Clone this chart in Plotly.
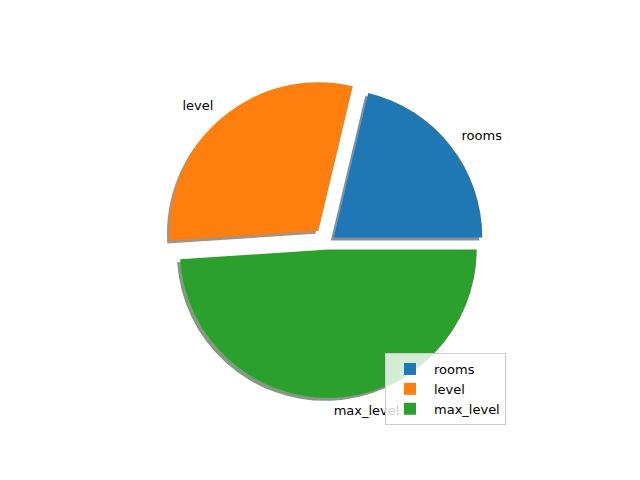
import math
import plotly.graph_objects as go

labels = ["rooms", "level", "max_level"]
values = [10, 14, 23]
colors = ["#1f77b4", "#ff7f0e", "#2ca02c"]
shadow_colors = ["rgba(9,36,54,0.5)", "rgba(77,38,4,0.5)", "rgba(13,48,13,0.5)"]
pulls = [0.05, 0.1, 0.05]

W, H = 640, 480
cx, cy = 328, 242  # pie centre in pixels (from top-left)
R = 148
half = R * 1.1 + 0.5

total = sum(values)
# plotly counterclockwise: first slice ends (ccw) at rotation; make it start at 3 o'clock
rotation = 90 - 360 * values[0] / total


def dom(dx=0, dy=0):
    x0 = (cx + dx - half) / W
    x1 = (cx + dx + half) / W
    yc = H - (cy + dy)
    y0 = (yc - half) / H
    y1 = (yc + half) / H
    return dict(x=[x0, x1], y=[y0, y1])


fig = go.Figure()
fig.add_trace(go.Pie(
    labels=labels, values=values, sort=False, direction="counterclockwise",
    rotation=rotation, pull=pulls, marker=dict(colors=shadow_colors, line=dict(width=0)),
    textinfo="none", hoverinfo="skip", showlegend=False, domain=dom(-3, 3),
))
fig.add_trace(go.Pie(
    labels=labels, values=values, sort=False, direction="counterclockwise",
    rotation=rotation, pull=pulls, marker=dict(colors=colors, line=dict(width=0)),
    textinfo="none", domain=dom(),
))

# matplotlib-style labels at 1.1 radius from each (exploded) slice centre,
# drawn as text in a hidden pixel-space subplot so the legend sits above them
tx_l, ty_l, tp_l = [], [], []
acc = 0.0
for lab, v, p in zip(labels, values, pulls):
    th = math.radians(360 * (acc + v / 2) / total)
    acc += v
    sx = cx + p * R * math.cos(th)
    sy = cy - p * R * math.sin(th)
    tx_l.append(sx + 1.1 * R * math.cos(th))
    ty_l.append(sy - 1.1 * R * math.sin(th))
    tp_l.append("middle right" if math.cos(th) > 0 else "middle left")

fig.add_trace(go.Scatter(
    x=tx_l, y=ty_l, text=labels, mode="text", textposition=tp_l,
    textfont=dict(family="DejaVu Sans", size=13, color="black"),
    showlegend=False, hoverinfo="skip",
))

fig.update_layout(
    width=W, height=H, margin=dict(l=0, r=0, t=0, b=0),
    paper_bgcolor="white", plot_bgcolor="rgba(0,0,0,0)",
    font=dict(family="DejaVu Sans", size=13, color="black"),
    xaxis=dict(range=[0, W], visible=False, fixedrange=True, domain=[0, 1]),
    yaxis=dict(range=[H, 0], visible=False, fixedrange=True, domain=[0, 1]),
    legend=dict(x=506 / W, xanchor="right", y=(H - 353) / H, yanchor="top",
                bordercolor="#cccccc", borderwidth=1, bgcolor="rgba(255,255,255,0.8)",
                font=dict(size=13), tracegroupgap=0, itemwidth=38),
)
fig.write_html("out.html", post_script="document.body.style.margin='0';",
               config={"displayModeBar": False})
